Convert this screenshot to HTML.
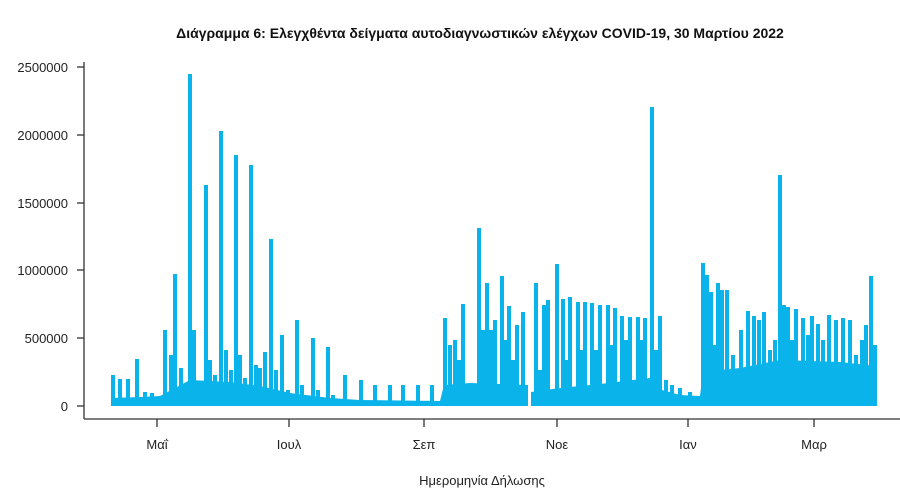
<!DOCTYPE html>
<html><head><meta charset="utf-8"><style>
body{margin:0;background:#fff;}
svg{display:block;font-family:"Liberation Sans","DejaVu Sans",sans-serif;}
</style></head><body>
<svg id="s" width="900" height="494" xmlns="http://www.w3.org/2000/svg">
<text x="480" y="38" text-anchor="middle" font-size="14" font-weight="bold" fill="#111">Διάγραμμα 6: Ελεγχθέντα δείγματα αυτοδιαγνωστικών ελέγχων COVID-19, 30 Μαρτίου 2022</text>
<g fill="#222" font-size="13" text-anchor="end">
<text x="68" y="72">2500000</text><text x="68" y="140">2000000</text><text x="68" y="208">1500000</text>
<text x="68" y="275">1000000</text><text x="68" y="343">500000</text><text x="68" y="411">0</text>
</g>
<g stroke="#333" stroke-width="1.3">
<line x1="84" y1="62" x2="84" y2="419"/><line x1="84" y1="419" x2="900" y2="419"/>
<line x1="77" y1="67" x2="84" y2="67"/><line x1="77" y1="135" x2="84" y2="135"/><line x1="77" y1="203" x2="84" y2="203"/>
<line x1="77" y1="270" x2="84" y2="270"/><line x1="77" y1="338" x2="84" y2="338"/><line x1="77" y1="406" x2="84" y2="406"/>
<line x1="157" y1="419" x2="157" y2="427"/><line x1="289" y1="419" x2="289" y2="427"/><line x1="424" y1="419" x2="424" y2="427"/>
<line x1="557" y1="419" x2="557" y2="427"/><line x1="688" y1="419" x2="688" y2="427"/><line x1="814" y1="419" x2="814" y2="427"/>
</g>
<g fill="#222" font-size="13" text-anchor="middle">
<text x="157" y="449">Μαΐ</text><text x="289" y="449">Ιουλ</text><text x="424" y="449">Σεπ</text>
<text x="557" y="449">Νοε</text><text x="688" y="449">Ιαν</text><text x="814" y="449">Μαρ</text>
<text x="482" y="485">Ημερομηνία Δήλωσης</text>
</g>
<polygon fill="#0AB3EA" points="112,406 112,398 140,397 160,396 175,388 190,380 230,382 260,386 290,393 330,398 360,400 440,401 444,385 470,383 528,385 528,406 531,406 531,392 560,388 600,384 650,378 662,390 680,395 700,396 703,372 740,368 780,360 840,362 876,366 876,406"/>
<g id="b" fill="#0AB3EA"></g>
<rect x="528" y="370" width="2" height="36" fill="#fff"/>
</svg>
<script>
var p=[[113,375],[120,379],[128,379],[137,359],[145,392],[152,393],[165,330],[171,355],[175,274],[181,368],[190,74],[194,330],[199,385],[206,185],[210,360],[215,375],[221,131],[226,350],[231,370],[236,155],[240,355],[245,378],[251,165],[256,365],[260,368],[265,352],[271,239],[276,370],[282,335],[288,390],[297,320],[302,385],[313,338],[318,390],[328,347],[333,395],[345,375],[361,380],[375,385],[390,385],[403,385],[418,385],[432,385],
[445,318],[450,345],[455,340],[459,360],[463,304],[471,385],[479,228],[483,330],[487,283],[491,330],[495,320],[502,276],[506,340],[509,306],[513,360],[517,325],[523,312],[536,283],[540,370],[544,305],[548,300],[557,264],[563,299],[566,360],[570,297],[578,302],[582,350],[585,302],[592,303],[596,350],[600,305],[608,305],[612,345],[615,308],[622,316],[626,340],[630,317],[638,317],[642,340],[645,318],[652,107],[656,350],[660,316],
[666,380],[672,385],[680,388],[690,392],
[703,263],[707,275],[711,292],[714,345],[718,283],[722,290],[727,290],[733,355],[741,330],[748,311],[754,316],[759,320],[764,312],[770,350],[775,340],[780,175],[784,305],[788,307],[792,340],[796,309],[803,318],[808,335],[812,316],[818,324],[823,340],[829,315],[836,320],[843,318],[850,320],[856,355],[862,340],[866,325],[871,276],[875,345]];
var g=document.getElementById('b'),h='';
p.forEach(function(a){h+='<rect x="'+(a[0]-2)+'" y="'+a[1]+'" width="4" height="'+(406-a[1])+'"/>';});
g.innerHTML=h;
</script>
</body></html>
